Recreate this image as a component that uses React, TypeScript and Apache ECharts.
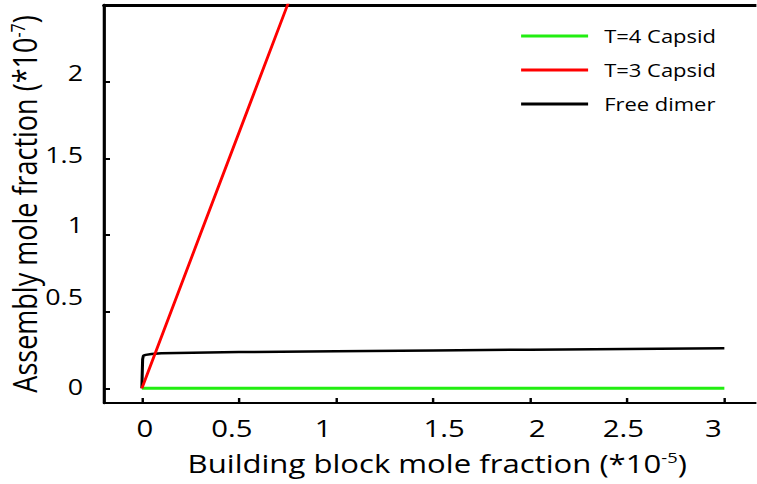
import React, { useEffect, useRef } from "react";
import * as echarts from "echarts";

// Building block mole fraction (×1e-5) vs assembly mole fraction (×1e-7)
const t4CapsidX = [0, 0.5, 1, 1.5, 2, 2.5, 3];
const t4CapsidY = [0, 0, 0, 0, 0, 0, 0];

const t3CapsidX = [0, 0.3, 0.6, 0.75, 0.9];
const t3CapsidY = [0, 1.0, 2.0, 2.5, 3.0];

const freeDimerX = [0, 0.002, 0.004, 0.008, 0.02, 0.05, 0.1, 0.5, 1, 1.5, 2, 2.5, 3];
const freeDimerY = [0, 0.1, 0.19, 0.213, 0.218, 0.224, 0.228, 0.236, 0.242, 0.247, 0.252, 0.257, 0.261];

const xTicks = [0, 0.5, 1, 1.5, 2, 2.5, 3];
const xTickLabels = ["0", "0.5", "1", "1.5", "2", "2.5", "3"];
const yTicks = [0, 0.5, 1, 1.5, 2];
const yTickLabels = ["0", "0.5", "1", "1.5", "2"];

const FONT = "Open Sans";

// The figure is laid out on a narrower canvas and widened horizontally.
const WIDTH = 757;
const HEIGHT = 484;
const STRETCH = 1.22;
const sx = (px: number) => px / STRETCH;

// Hand-placed tick labels sit slightly off their ticks (px, +right / +down).
const xLabelNudge = [3, -7, -13, 11, 7, -4, -11];
const yLabelNudge = [-2, -15, -10, -4, -9];

const pairs = (xs: number[], ys: number[]) => xs.map((x, i) => [x, ys[i]]);

const xLabelRich: Record<string, object> = {};
xLabelNudge.forEach((d, i) => {
  const p = 2 * sx(Math.abs(d));
  xLabelRich["x" + i] = { padding: d >= 0 ? [0, 0, 0, p] : [0, p, 0, 0] };
});
const yLabelRich: Record<string, object> = {};
yLabelNudge.forEach((d, i) => {
  const p = 2 * Math.abs(d);
  yLabelRich["y" + i] = { verticalAlign: "middle", padding: d >= 0 ? [p, 0, 0, 0] : [0, 0, p, 0] };
});

export default function App() {
  const ref = useRef<HTMLDivElement>(null);

  useEffect(() => {
    if (!ref.current) return;
    const chart = echarts.init(ref.current, null, { renderer: "svg" });
    chart.setOption({
      animation: false,
      backgroundColor: "#ffffff",
      textStyle: { fontFamily: FONT },
      grid: { left: sx(104), right: 0, top: 5, bottom: 81, containLabel: false, outerBoundsMode: "none" },
      legend: {
        orient: "vertical",
        left: sx(515),
        top: 22,
        itemWidth: sx(67),
        itemHeight: 3,
        itemGap: 16,
        icon: "rect",
        textStyle: { fontFamily: FONT, fontSize: 18, color: "#000", padding: [0, 0, 0, sx(10)] },
        data: ["T=4 Capsid", "T=3 Capsid", "Free dimer"],
      },
      xAxis: [
        {
          type: "value",
          min: -0.195,
          max: 3.165,
          position: "bottom",
          splitLine: { show: false },
          axisLine: { onZero: false, lineStyle: { color: "#000", width: 2 } },
          axisTick: { inside: true, length: 5, lineStyle: { color: "#000", width: 2 }, customValues: xTicks },
          axisLabel: {
            customValues: xTicks,
            fontFamily: FONT,
            fontSize: 24,
            color: "#000",
            margin: 13,
            formatter: (v: number) => {
              const i = xTicks.indexOf(v);
              return i < 0 ? String(v) : `{x${i}|${xTickLabels[i]}}`;
            },
            rich: xLabelRich,
          },
          name: "Building block mole fraction (*10{sup|-5})",
          nameLocation: "middle",
          nameGap: 47,
          nameTextStyle: {
            fontFamily: FONT,
            fontSize: 25.5,
            color: "#000",
            padding: [0, 0, 0, sx(14)],
            rich: {
              sup: { fontFamily: FONT, fontSize: 15, verticalAlign: "top", lineHeight: 15, padding: [0, 0, 10, 0] },
            },
          },
        },
        {
          type: "value",
          min: -0.195,
          max: 3.165,
          position: "top",
          splitLine: { show: false },
          axisLine: { onZero: false, lineStyle: { color: "#000", width: 3 } },
          axisTick: { show: false },
          axisLabel: { show: false },
        },
      ],
      yAxis: {
        type: "value",
        min: -0.096,
        max: 2.5,
        splitLine: { show: false },
        axisLine: { onZero: false, lineStyle: { color: "#000", width: 2.6 } },
        axisTick: { inside: true, length: sx(6), lineStyle: { color: "#000", width: 2 }, customValues: yTicks },
        axisLabel: {
          customValues: yTicks,
          fontFamily: FONT,
          fontSize: 22,
          color: "#000",
          margin: sx(21),
          formatter: (v: number) => {
            const i = yTicks.indexOf(v);
            return i < 0 ? String(v) : `{y${i}|${yTickLabels[i]}}`;
          },
          rich: yLabelRich,
        },
        name: "Assembly mole fraction (*10{sup|-7})",
        nameLocation: "middle",
        nameGap: 52,
        nameRotate: 90,
        nameMoveOverlap: false,
        nameTextStyle: {
          fontFamily: FONT,
          fontSize: 27,
          color: "#000",
          rich: {
            sup: { fontFamily: FONT, fontSize: 16, verticalAlign: "top", lineHeight: 16, padding: [0, 0, 10, 0] },
          },
        },
      },
      series: [
        {
          name: "T=4 Capsid",
          type: "line",
          data: pairs(t4CapsidX, t4CapsidY),
          showSymbol: false,
          clip: true,
          color: "#22ee11",
          lineStyle: { color: "#22ee11", width: 3 },
          z: 3,
        },
        {
          name: "T=3 Capsid",
          type: "line",
          data: pairs(t3CapsidX, t3CapsidY),
          showSymbol: false,
          clip: true,
          color: "#ff0000",
          lineStyle: { color: "#ff0000", width: 2.4 },
          z: 4,
        },
        {
          name: "Free dimer",
          type: "line",
          data: pairs(freeDimerX, freeDimerY),
          showSymbol: false,
          clip: true,
          color: "#000000",
          lineStyle: { color: "#000000", width: 2.5 },
          z: 2,
        },
      ],
    });
    return () => chart.dispose();
  }, []);

  return (
    <div style={{ position: "absolute", left: 0, top: 0, width: WIDTH, height: HEIGHT, overflow: "hidden", background: "#fff" }}>
      <div
        ref={ref}
        style={{
          width: WIDTH / STRETCH,
          height: HEIGHT,
          transform: `scaleX(${STRETCH})`,
          transformOrigin: "0 0",
        }}
      />
    </div>
  );
}
